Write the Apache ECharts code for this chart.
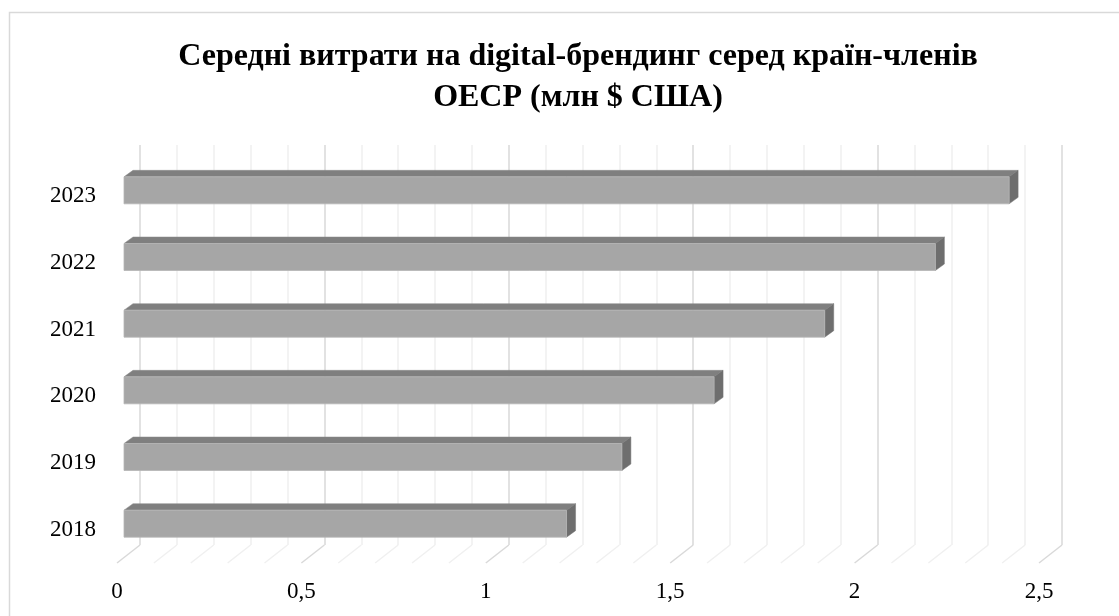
<!DOCTYPE html>
<html>
<head>
<meta charset="utf-8">
<script src="https://cdn.jsdelivr.net/npm/echarts@6/dist/echarts.min.js"></script>
<style>
html,body{margin:0;padding:0;background:#fff;}
#chart{width:1119px;height:616px;}
</style>
</head>
<body>
<div id="chart"></div>
<script>
// ---- data ----
const titleLines = ['Середні витрати на digital-брендинг серед країн-членів', 'ОЕСР (млн $ США)'];
const categories = ['2018', '2019', '2020', '2021', '2022', '2023'];
const values = [1.2, 1.35, 1.6, 1.9, 2.2, 2.4];
const xTickValues = [0, 0.5, 1, 1.5, 2, 2.5];
const xTickLabels = ['0', '0,5', '1', '1,5', '2', '2,5'];

// ---- style / projection ----
const FONT = '"Liberation Serif", "Times New Roman", serif';
const floorDepth = [-23, 18];   // back wall -> front edge of floor
const barBack = [-7, 5.5];
const barFront = [-16, 12];
const minorSteps = 5;

const minorValues = [];
for (let i = 0; i < xTickValues.length - 1; i++) {
  const a = xTickValues[i], b = xTickValues[i + 1];
  for (let k = 1; k < minorSteps; k++) minorValues.push(+(a + (b - a) * k / minorSteps).toFixed(6));
}
const floorData = xTickValues.map(v => [v, 1]).concat(minorValues.map(v => [v, 0]));

const chart = echarts.init(document.getElementById('chart'), null, {renderer: 'canvas'});

const option = {
  backgroundColor: '#ffffff',
  animation: false,
  graphic: [
    {
      type: 'rect', z: -10, silent: true,
      shape: {x: 9.5, y: 12.5, width: 1130, height: 620},
      style: {fill: '#ffffff', stroke: '#d9d9d9', lineWidth: 1.5}
    },
    {
      type: 'text', z: 10, x: 578, y: 36,
      style: {
        text: titleLines.join('\n'),
        font: 'bold 32px ' + FONT,
        fill: '#000000',
        align: 'center',
        verticalAlign: 'top',
        lineHeight: 41
      }
    }
  ],
  grid: [
    {left: 140, right: 57, top: 145, bottom: 71, containLabel: false},
    {left: 117, right: 80, top: 163, bottom: 53, containLabel: false}
  ],
  xAxis: [
    {
      gridIndex: 0, type: 'value', min: 0, max: 2.5, interval: 0.5,
      axisLine: {show: false}, axisTick: {show: false}, axisLabel: {show: false},
      splitLine: {show: true, lineStyle: {color: '#d9d9d9', width: 1.5}},
      minorTick: {show: false, splitNumber: minorSteps},
      minorSplitLine: {show: true, lineStyle: {color: '#f0f0f0', width: 1.5}}
    },
    {
      gridIndex: 1, type: 'value', min: 0, max: 2.5, interval: 0.5,
      axisLine: {show: false}, axisTick: {show: false}, splitLine: {show: false},
      axisLabel: {
        show: true, margin: 17, color: '#000000', fontSize: 23, fontFamily: FONT,
        formatter: function (v) {
          const i = xTickValues.indexOf(+v.toFixed(6));
          return i >= 0 ? xTickLabels[i] : '';
        }
      }
    }
  ],
  yAxis: [
    {
      gridIndex: 0, type: 'category', data: categories,
      axisLine: {show: false}, axisTick: {show: false}, axisLabel: {show: false},
      splitLine: {show: false}
    },
    {
      gridIndex: 1, type: 'category', data: categories,
      axisLine: {show: false}, axisTick: {show: false}, splitLine: {show: false},
      axisLabel: {show: true, margin: 21, color: '#000000', fontSize: 23, fontFamily: FONT}
    }
  ],
  series: [
    {
      type: 'custom', xAxisIndex: 0, yAxisIndex: 0, z: 1, silent: true,
      data: floorData,
      renderItem: function (params, api) {
        const v = api.value(0);
        const major = api.value(1) === 1;
        const p = api.coord([v, 0]);
        const band = api.size([0, 1])[1];
        const yb = p[1] + band / 2;
        return {
          type: 'line',
          shape: {x1: p[0], y1: yb, x2: p[0] + floorDepth[0], y2: yb + floorDepth[1]},
          style: {stroke: major ? '#d9d9d9' : '#f0f0f0', lineWidth: 1.5}
        };
      }
    },
    {
      type: 'custom', xAxisIndex: 0, yAxisIndex: 0, z: 5, silent: true,
      data: values.map((v, i) => [v, i]),
      renderItem: function (params, api) {
        const v = api.value(0);
        const idx = api.value(1);
        const p0 = api.coord([0, idx]);
        const p1 = api.coord([v, idx]);
        const band = api.size([0, 1])[1];
        const th = band * 0.405;
        const top = p0[1] - th / 2, bot = p0[1] + th / 2;
        const x0 = p0[0], x1 = p1[0];
        const B = barBack, F = barFront;
        return {
          type: 'group',
          children: [
            {
              type: 'polygon',
              shape: {points: [[x0 + B[0], top + B[1]], [x1 + B[0], top + B[1]], [x1 + F[0], top + F[1]], [x0 + F[0], top + F[1]]]},
              style: {fill: '#7f7f7f', stroke: '#8a8a8a', lineWidth: 0.5}
            },
            {
              type: 'polygon',
              shape: {points: [[x1 + B[0], top + B[1]], [x1 + F[0], top + F[1]], [x1 + F[0], bot + F[1]], [x1 + B[0], bot + B[1]]]},
              style: {fill: '#6e6e6e', stroke: '#777777', lineWidth: 0.5}
            },
            {
              type: 'rect',
              shape: {x: x0 + F[0], y: top + F[1], width: x1 - x0, height: th},
              style: {fill: '#a6a6a6', stroke: '#b5b5b5', lineWidth: 0.8}
            }
          ]
        };
      }
    },
    {
      type: 'custom', xAxisIndex: 1, yAxisIndex: 1, silent: true,
      data: [],
      renderItem: function () { return null; }
    }
  ]
};
chart.setOption(option);
</script>
</body>
</html>
